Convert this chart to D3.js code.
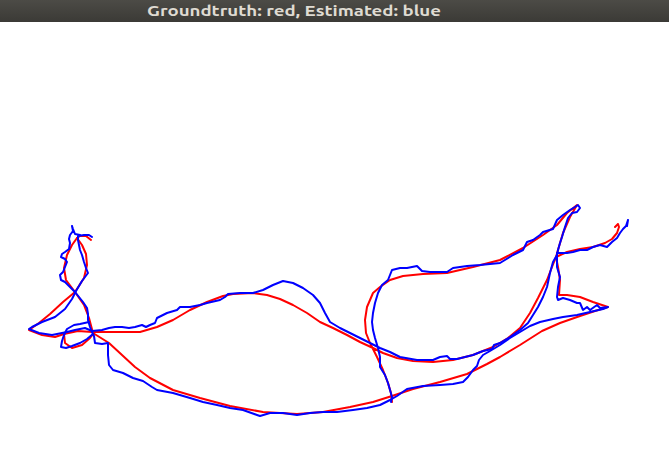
<!DOCTYPE html>
<html><head><meta charset="utf-8">
<script src="https://cdn.jsdelivr.net/npm/d3@7"></script>
<style>html,body{margin:0;padding:0;background:#fff;overflow:hidden}</style>
</head><body>
<svg id="c" width="669" height="470"></svg>
<script>
const windowTitle = "Groundtruth: red, Estimated: blue";

// Ground truth trajectory pieces (image-plane units)
const gtRouteA = [[91,240],[86,236],[80,236],[77,238],[82,245],[86,254],[87,265],[84,278],[75,292],[63,302],[50,314],[39,323],[29,330],[42,335],[55,337],[64,334],[78,331],[92,332],[102,332],[122,332],[140,332],[157,327],[173,320],[190,310],[207,302],[223,296],[233,294],[253,293],[267,295],[280,299],[293,305],[307,313],[320,322],[333,328],[347,335],[360,342],[373,348],[383,353],[397,358],[413,361],[433,362],[453,360],[473,355],[493,347],[508,338],[520,328],[530,313],[538,298],[547,280],[552,267],[556,257],[558,250],[563,233],[570,217],[577,205],[567,213],[557,225],[543,235],[523,248],[500,260],[473,267],[447,273],[423,274],[403,276],[390,280],[380,287],[373,293],[367,307],[365,320],[366,333],[370,343],[377,357],[383,370],[388,383],[391,393],[392,402]];
const gtRouteB = [[77,238],[72,245],[67,255],[64,268],[66,280],[75,292],[84,305],[89,318],[93,333],[109,343],[122,355],[135,367],[150,378],[173,390],[200,398],[230,406],[263,412],[297,414],[323,412],[350,407],[373,402],[392,396],[413,389],[440,382],[467,374],[487,364],[500,357],[520,345],[542,331],[560,323],[580,316],[595,311],[608,307],[593,302],[580,297],[567,295],[559,295],[560,280],[558,267],[556,257],[567,252],[580,249],[593,247],[605,243],[612,239],[617,233],[619,227],[618,224],[615,227]];
const gtSmallLoop = [[64,334],[65,343],[72,348],[82,345],[90,338],[94,333]];

// Estimated trajectory pieces
const estRouteA = [[80,235],[75,234],[73,229],[72,226],[73,231],[70,235],[69,239],[70,243],[69,249],[65,252],[62,254],[61,257],[65,259],[67,262],[65,267],[63,272],[60,275],[61,280],[65,282],[70,287],[75,292],[79,297],[83,302],[87,308],[88,314],[88,320],[90,327],[92,332],[94,336],[95,343],[102,344],[108,343],[108,355],[109,365],[113,370],[123,373],[133,378],[143,381],[152,387],[157,390],[173,393],[190,398],[203,402],[217,405],[230,408],[243,410],[257,415],[260,416],[270,413],[283,413],[297,415],[310,413],[323,412],[337,412],[353,410],[367,408],[380,405],[390,400],[397,396],[407,389],[423,386],[440,385],[453,384],[463,382],[468,377],[473,370],[477,366],[479,360],[483,355],[490,351],[500,345],[510,338],[520,332],[530,326],[540,322],[553,319],[563,317],[577,315],[590,312],[603,309],[608,307],[600,308],[597,305],[590,310],[587,307],[583,310],[580,303],[577,303],[570,300],[563,298],[558,300],[557,297],[558,287],[560,277],[557,267],[557,258],[557,253],[567,253],[573,252],[580,250],[587,250],[593,247],[600,245],[607,247],[612,242],[617,238],[620,233],[623,229],[626,226],[628,220],[627,226]];
const estRouteB = [[92,237],[89,235],[84,235],[78,236],[78,240],[79,245],[80,250],[82,255],[84,262],[86,268],[88,273],[85,277],[82,281],[79,286],[76,291],[72,299],[65,309],[55,317],[42,322],[32,327],[29,329],[39,333],[52,335],[62,333],[67,332],[75,330],[85,328],[92,331],[102,330],[109,328],[115,327],[122,327],[129,328],[135,327],[142,325],[146,327],[150,325],[155,323],[157,318],[167,313],[177,310],[180,307],[190,307],[200,305],[207,303],[220,300],[225,297],[228,294],[240,293],[253,293],[263,290],[273,285],[283,281],[293,283],[303,288],[313,295],[320,303],[325,313],[330,322],[340,328],[350,333],[360,338],[370,343],[380,348],[390,352],[400,357],[417,360],[433,360],[440,357],[447,356],[450,359],[457,359],[473,355],[483,351],[492,349],[494,345],[500,343],[510,337],[520,330],[528,323],[533,315],[538,307],[543,297],[547,287],[550,273],[553,262],[557,255],[558,250],[560,243],[562,237],[565,227],[568,218],[572,213],[577,212],[580,208],[578,205],[575,207],[570,210],[563,215],[557,220],[553,229],[543,232],[540,235],[533,240],[527,242],[523,250],[513,255],[500,263],[480,265],[467,266],[453,268],[447,272],[430,272],[422,271],[417,266],[412,267],[407,268],[400,268],[392,270],[390,275],[388,280],[382,285],[378,293],[375,303],[373,313],[372,322],[373,330],[375,338],[378,348],[380,357],[380,367],[385,375],[388,383],[390,390],[392,397],[391,402]];
const estSmallLoop = [[89,322],[80,324],[74,325],[67,329],[64,335],[62,341],[61,347],[66,348],[72,346],[80,343],[87,339],[93,334]];

const W = 669, H = 470, barH = 22;
const svg = d3.select("#c");

// title bar
const defs = svg.append("defs");
const g = defs.append("linearGradient").attr("id","bar").attr("x1",0).attr("y1",0).attr("x2",0).attr("y2",1);
g.append("stop").attr("offset","0%").attr("stop-color","#4c4b46");
g.append("stop").attr("offset","100%").attr("stop-color","#3b3a36");
svg.append("rect").attr("x",0).attr("y",0).attr("width",W).attr("height",barH).attr("fill","url(#bar)");
svg.append("text").attr("x",147).attr("y",16)
  .attr("font-family","Ubuntu, 'DejaVu Sans', sans-serif").attr("font-weight","bold")
  .attr("font-size",15).attr("fill","#dfdbd2")
  .attr("textLength",294).attr("lengthAdjust","spacingAndGlyphs")
  .text(windowTitle);

// scales: image-plane units -> screen
const x = d3.scaleLinear().domain([0, W]).range([0, W]);
const y = d3.scaleLinear().domain([barH, H]).range([barH, H]);
const line = d3.line().x(d => x(d[0])).y(d => y(d[1])).curve(d3.curveLinear);

const plot = svg.append("g");
[gtRouteA, gtRouteB, gtSmallLoop].forEach(s =>
  plot.append("path").attr("d", line(s)).attr("fill","none").attr("stroke","#ff0000")
    .attr("stroke-width",2).attr("stroke-linejoin","round").attr("stroke-linecap","round"));
[estRouteA, estRouteB, estSmallLoop].forEach(s =>
  plot.append("path").attr("d", line(s)).attr("fill","none").attr("stroke","#0000ff")
    .attr("stroke-width",2).attr("stroke-linejoin","round").attr("stroke-linecap","round"));
</script>
</body></html>
